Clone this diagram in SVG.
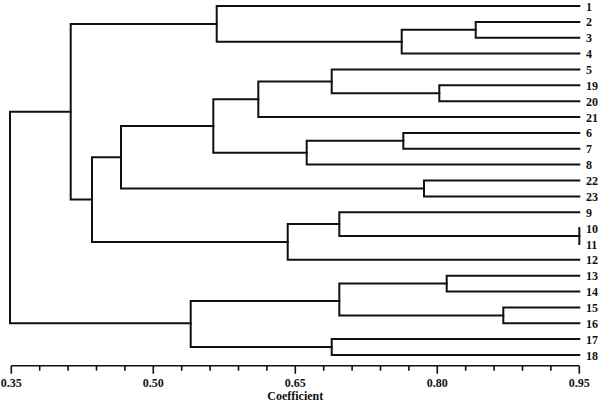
<svg xmlns="http://www.w3.org/2000/svg" width="600" height="402" viewBox="0 0 600 402">
<style>
.br{fill:none;stroke:#111;stroke-width:2;stroke-linecap:square;stroke-linejoin:miter}
.ax{fill:none;stroke:#111;stroke-width:1.6}
.lb{font-family:"Liberation Serif","Times New Roman",serif;font-weight:bold;font-size:12px;fill:#111}
.tk{font-family:"Liberation Serif","Times New Roman",serif;font-weight:bold;font-size:12px;fill:#111;text-anchor:middle}
</style>
<rect width="600" height="402" fill="#fff"/>
<g id="connectors">
<path class="br" d="M70.7,111.7 H10 V323.3 H190.7"/>
<path class="br" d="M216.7,23.9 H70.7 V199.6 H92"/>
<path class="br" d="M579.3,6 H216.7 V41.7 H401.7"/>
<path class="br" d="M475.7,29.8 H401.7 V53.6 H579.3"/>
<path class="br" d="M579.3,21.9 H475.7 V37.7 H579.3"/>
<path class="br" d="M121,157.2 H92 V242 H287.7"/>
<path class="br" d="M213.3,126 H121 V188.4 H424"/>
<path class="br" d="M258.3,99.2 H213.3 V152.8 H306.7"/>
<path class="br" d="M331.7,81.4 H258.3 V117 H579.3"/>
<path class="br" d="M579.3,69.5 H331.7 V93.3 H439.3"/>
<path class="br" d="M579.3,85.3 H439.3 V101.2 H579.3"/>
<path class="br" d="M403.3,140.8 H306.7 V164.6 H579.3"/>
<path class="br" d="M579.3,132.9 H403.3 V148.8 H579.3"/>
<path class="br" d="M579.3,180.5 H424 V196.4 H579.3"/>
<path class="br" d="M339.3,224.1 H287.7 V259.8 H579.3"/>
<path class="br" d="M579.3,212.2 H339.3 V236 H579.3"/>
<path class="br" d="M579.3,228.1 V244"/>
<path class="br" d="M339.3,301 H190.7 V347.1 H331.7"/>
<path class="br" d="M446.7,283.6 H339.3 V315.4 H503.3"/>
<path class="br" d="M579.3,275.7 H446.7 V291.6 H579.3"/>
<path class="br" d="M579.3,307.4 H503.3 V323.3 H579.3"/>
<path class="br" d="M579.3,339.1 H331.7 V355 H579.3"/>
</g>
<g id="leaf-1"><text class="lb" x="586" y="10.5">1</text></g>
<g id="leaf-2"><text class="lb" x="586" y="26.4">2</text></g>
<g id="leaf-3"><text class="lb" x="586" y="42.2">3</text></g>
<g id="leaf-4"><text class="lb" x="586" y="58.1">4</text></g>
<g id="leaf-5"><text class="lb" x="586" y="74">5</text></g>
<g id="leaf-19"><text class="lb" x="586" y="89.8">19</text></g>
<g id="leaf-20"><text class="lb" x="586" y="105.7">20</text></g>
<g id="leaf-21"><text class="lb" x="586" y="121.5">21</text></g>
<g id="leaf-6"><text class="lb" x="586" y="137.4">6</text></g>
<g id="leaf-7"><text class="lb" x="586" y="153.3">7</text></g>
<g id="leaf-8"><text class="lb" x="586" y="169.1">8</text></g>
<g id="leaf-22"><text class="lb" x="586" y="185">22</text></g>
<g id="leaf-23"><text class="lb" x="586" y="200.9">23</text></g>
<g id="leaf-9"><text class="lb" x="586" y="216.7">9</text></g>
<g id="leaf-10"><text class="lb" x="586" y="232.6">10</text></g>
<g id="leaf-11"><text class="lb" x="586" y="248.5">11</text></g>
<g id="leaf-12"><text class="lb" x="586" y="264.3">12</text></g>
<g id="leaf-13"><text class="lb" x="586" y="280.2">13</text></g>
<g id="leaf-14"><text class="lb" x="586" y="296.1">14</text></g>
<g id="leaf-15"><text class="lb" x="586" y="311.9">15</text></g>
<g id="leaf-16"><text class="lb" x="586" y="327.8">16</text></g>
<g id="leaf-17"><text class="lb" x="586" y="343.6">17</text></g>
<g id="leaf-18"><text class="lb" x="586" y="359.5">18</text></g>
<g id="axis">
<path class="ax" d="M11.3,365.7 H579.3"/>
<path class="ax" d="M11.3,365.7 v8 M153.3,365.7 v8 M295.3,365.7 v8 M437.3,365.7 v8 M579.3,365.7 v8"/>
<path class="ax" d="M39.7,365.7 v5 M68.1,365.7 v5 M96.5,365.7 v5 M124.9,365.7 v5 M181.7,365.7 v5 M210.1,365.7 v5 M238.5,365.7 v5 M266.9,365.7 v5 M323.7,365.7 v5 M352.1,365.7 v5 M380.5,365.7 v5 M408.9,365.7 v5 M465.7,365.7 v5 M494.1,365.7 v5 M522.5,365.7 v5 M550.9,365.7 v5"/>
<text class="tk" x="11.3" y="387">0.35</text>
<text class="tk" x="153.3" y="387">0.50</text>
<text class="tk" x="295.3" y="387">0.65</text>
<text class="tk" x="437.3" y="387">0.80</text>
<text class="tk" x="579.3" y="387">0.95</text>
<text class="tk" x="295.3" y="399.5">Coefficient</text>
</g>
</svg>
